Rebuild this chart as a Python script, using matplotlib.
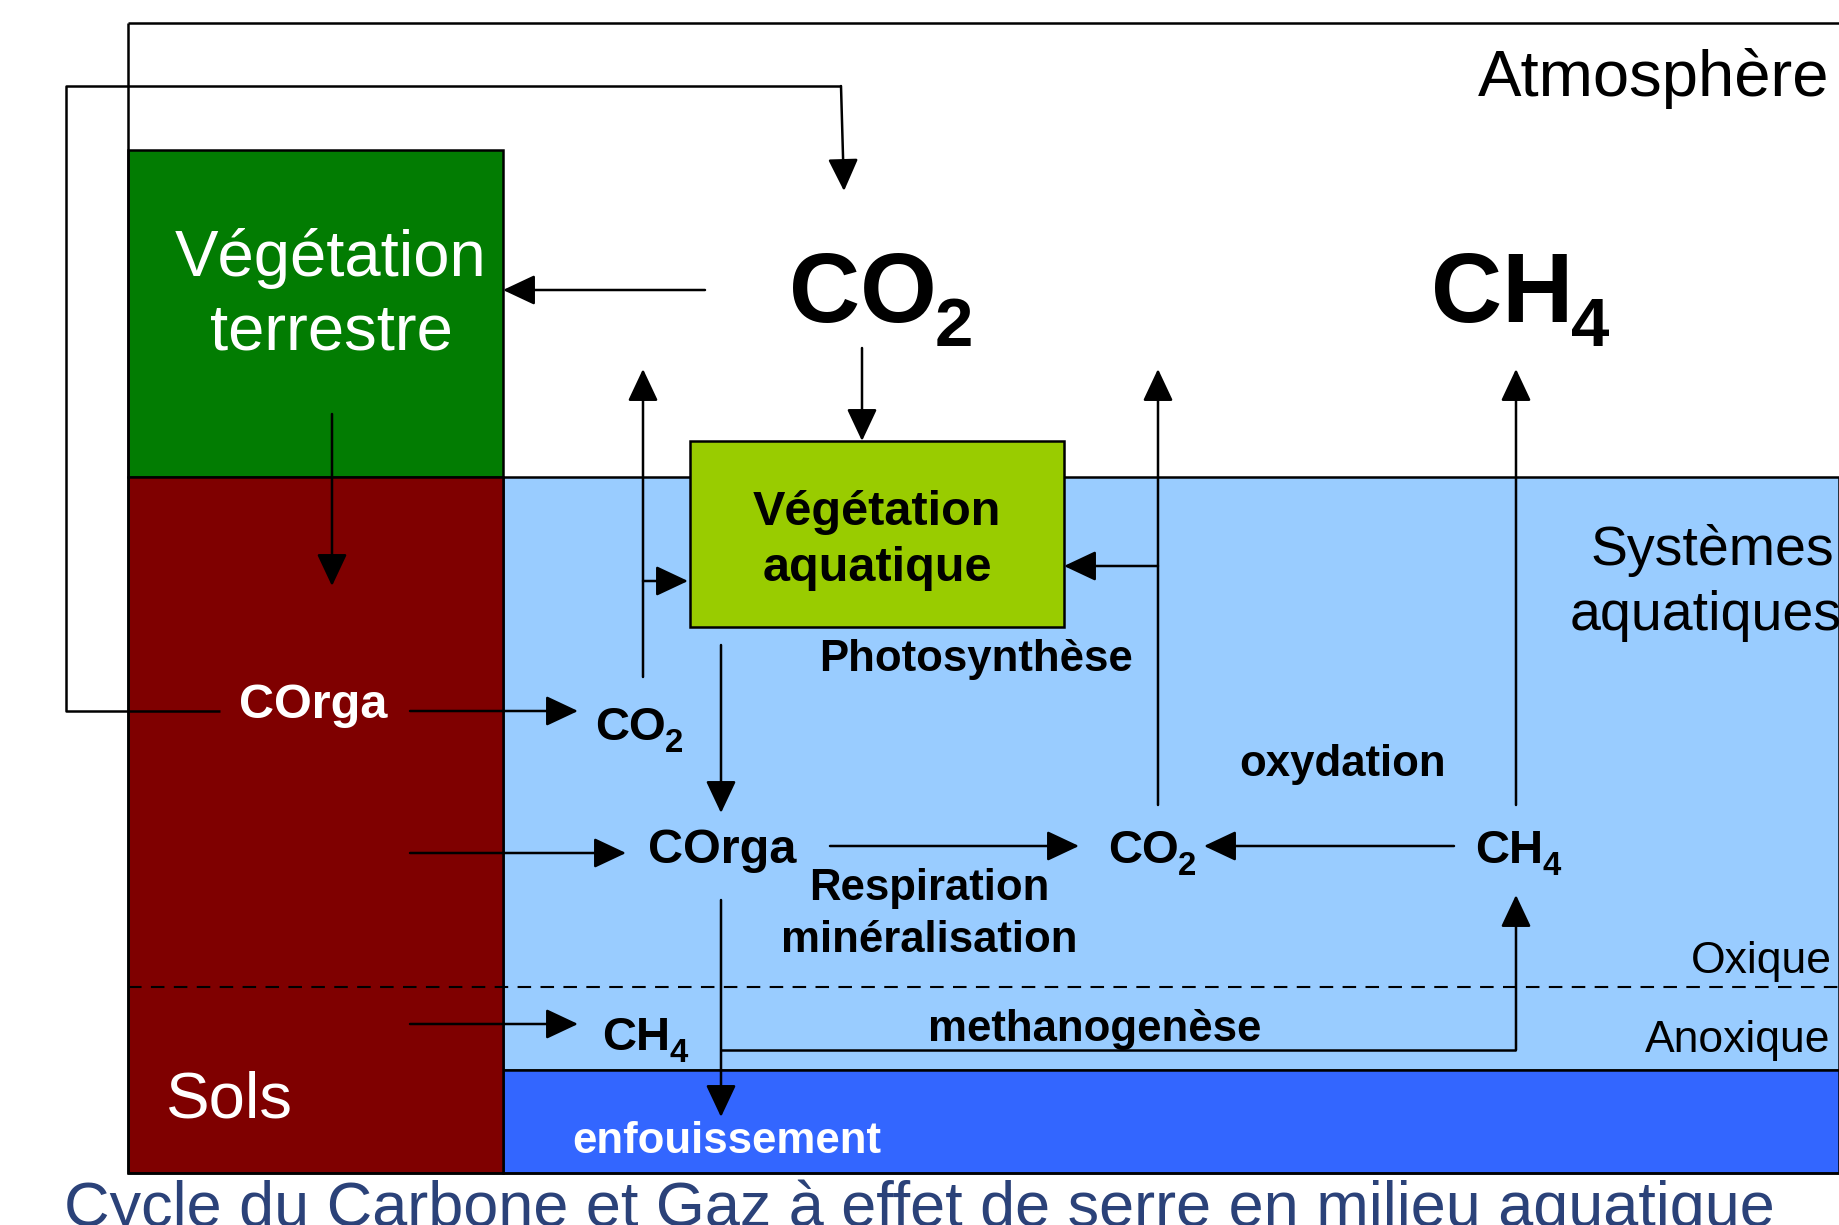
import matplotlib
matplotlib.use("Agg")
import matplotlib.pyplot as plt
from matplotlib.patches import Rectangle

plt.rcParams["font.family"] = ["Liberation Sans", "DejaVu Sans"]

# compartiments : nom, x0, y0, x1, y1 (pixels de l'image), couleur
zones = [
    ("Eau", 503, 477, 1839, 1070, "#99CCFF"),
    ("Sediment", 503, 1070, 1839, 1173, "#3366FF"),
    ("Vegetation terrestre", 128, 150, 503, 477, "#027C02"),
    ("Sols", 128, 477, 503, 1173, "#7F0000"),
    ("Vegetation aquatique", 690, 441, 1064, 627, "#99CC00"),
]

# flux avec fleche : depart -> arrivee
flux = [
    ((705, 290), (503, 290)),
    ((332, 414), (332, 586)),
    ((841, 86), (844, 191)),
    ((410, 711), (578, 711)),
    ((643, 677), (643, 369)),
    ((643, 581), (688, 581)),
    ((862, 348), (862, 441)),
    ((721, 645), (721, 813)),
    ((410, 853), (626, 853)),
    ((830, 846), (1079, 846)),
    ((1454, 846), (1204, 846)),
    ((1158, 805), (1158, 369)),
    ((1158, 566), (1064, 566)),
    ((1516, 805), (1516, 369)),
    ((1516, 1050), (1516, 895)),
    ((410, 1024), (578, 1024)),
    ((721, 900), (721, 1117)),
]

# traits sans fleche
traits = [
    [(220, 711), (66, 711), (66, 86), (841, 86)],
    [(721, 1050), (1516, 1050)],
    [(128, 23), (1839, 23)],
    [(128, 23), (128, 1173), (1839, 1173)],
]

# textes : texte, x, y (ligne de base), taille, gras, couleur, alignement
textes = [
    ("Atmosphère", 1829, 96, 47, False, "black", "right"),
    ("Végétation", 331, 276, 47, False, "white", "center"),
    ("terrestre", 331, 349, 47, False, "white", "center"),
    ("Systèmes", 1712, 565, 40, False, "black", "center"),
    ("aquatiques", 1706, 630, 40, False, "black", "center"),
    ("Végétation", 877, 525, 35, True, "black", "center"),
    ("aquatique", 877, 581, 35, True, "black", "center"),
    ("Photosynthèse", 976, 671, 31.5, True, "black", "center"),
    ("COrga", 313, 718, 35, True, "white", "center"),
    ("COrga", 722, 863, 35, True, "black", "center"),
    ("Respiration", 929, 900, 31.5, True, "black", "center"),
    ("minéralisation", 929, 952, 31.5, True, "black", "center"),
    ("oxydation", 1343, 776, 31.5, True, "black", "center"),
    ("Oxique", 1832, 973, 32, False, "black", "right"),
    ("Anoxique", 1830, 1052, 32, False, "black", "right"),
    ("methanogenèse", 1095, 1041, 31.5, True, "black", "center"),
    ("enfouissement", 727, 1153, 31.5, True, "white", "center"),
    ("Sols", 166, 1117, 47, False, "white", "left"),
]

# formules chimiques : symbole, indice, x gauche, y (ligne de base), taille
formules = [
    ("CO", "2", 789, 322, 71),
    ("CH", "4", 1431, 322, 71),
    ("CO", "2", 595, 740, 34),
    ("CO", "2", 1108, 863, 34),
    ("CH", "4", 1475, 863, 34),
    ("CH", "4", 602, 1050, 34),
]

titre = "Cycle du Carbone et Gaz à effet de serre en milieu aquatique"

W, H = 1839, 1225
fig = plt.figure(figsize=(W / 100, H / 100), dpi=100)
ax = fig.add_axes([0, 0, 1, 1])
ax.set_xlim(0, W)
ax.set_ylim(H, 0)
ax.axis("off")

for nom, x0, y0, x1, y1, couleur in zones:
    ax.add_patch(Rectangle((x0, y0), x1 - x0, y1 - y0, facecolor=couleur,
                           edgecolor="black", lw=1.8, zorder=1))

# limite oxique / anoxique
ax.plot([128, 1839], [987, 987], color="black", lw=1.5,
        linestyle=(0, (6.5, 4.5)), zorder=2)

for points in traits:
    xs = [p[0] for p in points]
    ys = [p[1] for p in points]
    ax.plot(xs, ys, color="black", lw=1.8, zorder=3, solid_capstyle="butt")

for depart, arrivee in flux:
    ax.annotate("", xy=arrivee, xytext=depart, zorder=4,
                arrowprops=dict(arrowstyle="-|>,head_length=1.0,head_width=0.47",
                                mutation_scale=20, color="black", lw=1.8,
                                shrinkA=0, shrinkB=0))

for texte, x, y, taille, gras, couleur, ha in textes:
    ax.text(x, y, texte, fontsize=taille, color=couleur, ha=ha, va="baseline",
            fontweight="bold" if gras else "normal", zorder=5)

for symbole, indice, x, y, taille in formules:
    t = ax.text(x, y, symbole, fontsize=taille, fontweight="bold", ha="left",
                va="baseline", zorder=5)
    # indice accroche au coin bas droit du symbole, un peu sous la ligne de base
    ax.annotate(indice, xy=(1, 0), xycoords=t,
                xytext=(-0.02 * taille, -0.045 * taille),
                textcoords="offset points", fontsize=taille * 0.7,
                fontweight="bold", ha="left", va="baseline", zorder=5)

ax.text(64, 1226, titre, fontsize=45.4, color="#2B4279", ha="left", va="baseline",
        zorder=5)

fig.savefig("out.png", dpi=100)
